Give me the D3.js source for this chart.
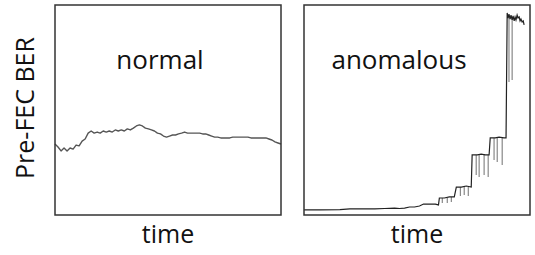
<!DOCTYPE html>
<html>
<head>
<meta charset="utf-8">
<script src="https://cdn.jsdelivr.net/npm/d3@7"></script>
<style>
  body { margin: 0; background: #fff; }
  svg text { font-family: "Open Sans", sans-serif; fill: #111; }
</style>
</head>
<body>
<svg id="chart" width="535" height="255"></svg>
<script>
// normal trace: evenly spaced samples, BER in arbitrary units (0-100)
var normalBER = [
  33.8, 32.4, 30.5, 31.9, 30.5, 31.9, 31.4, 33.3, 32.9, 35.2,
  36.2, 39.0, 40.0, 39.0, 39.5, 39.0, 40.0, 39.5, 40.0, 39.5,
  40.5, 40.0, 40.5, 40.0, 41.0, 40.5, 41.4, 42.4, 42.9, 42.4,
  41.4, 41.0, 40.5, 40.0, 39.0, 38.6, 37.6, 37.1, 37.6, 38.1,
  38.1, 38.6, 39.0, 39.5, 39.0, 39.0, 39.0, 39.0, 39.0, 38.6,
  38.6, 38.1, 37.6, 37.1, 37.1, 36.7, 36.7, 36.7, 36.7, 37.1,
  37.1, 37.1, 37.1, 37.1, 37.1, 36.7, 36.7, 36.7, 36.7, 36.7,
  36.7, 36.2, 35.7, 34.8, 34.3, 33.8
];

// anomalous trace: time (0-100) and BER
var anomTime = [
  0, 7.0, 15.9, 20.3, 24.7, 31.3, 35.7, 40.1, 42.3, 44.5, 46.7, 48.9, 51.1, 52.9,
  55.5, 58.1, 59.5, 59.9, 62.1, 64.3, 66.5, 67.4, 69.6, 71.8, 74.0,
  74.4, 76.7, 78.4, 80.2, 81.9, 82.4, 84.6, 86.3, 88.5, 89.4,
  89.9, 90.3, 90.7, 91.2, 91.6, 92.1, 92.5, 93.0, 93.4, 93.8,
  94.3, 94.7, 95.2, 95.6, 96.0, 96.5, 97.0, 97.4
];
var anomBER = [
  2.4, 2.4, 2.6, 2.9, 2.9, 2.9, 3.1, 3.3, 3.1, 3.3, 3.8, 3.8, 4.3, 5.2,
  5.2, 5.2, 4.8, 8.1, 8.1, 8.6, 8.6, 13.3, 13.3, 13.8, 13.3,
  28.6, 28.6, 29.0, 28.6, 28.6, 36.7, 36.7, 37.1, 36.7, 36.7,
  96.2, 93.8, 95.7, 93.3, 95.2, 92.9, 94.8, 92.4, 94.3, 92.9,
  95.2, 93.8, 94.3, 92.4, 93.3, 91.9, 92.4, 90.5
];

// short drop-outs hanging off each level
var spikeTime  = [61.2, 63.4, 65.2, 69.2, 70.9, 72.7, 76.2, 77.5, 79.7, 81.5, 84.1, 85.5, 87.7, 90.7, 92.1];
var spikeLevel = [8.1, 8.1, 8.6, 13.3, 13.8, 13.3, 28.6, 28.6, 29.0, 28.6, 36.7, 37.1, 36.7, 94.3, 94.0];
var spikeLow   = [5.7, 5.7, 6.2, 9.0, 9.5, 9.0, 19.0, 18.1, 19.0, 18.1, 26.2, 25.2, 23.8, 63.3, 64.3];

var svg = d3.select('#chart');

var panels = [
  { x: 55, label: 'normal', labelX: 160 },
  { x: 304, label: 'anomalous', labelX: 399 }
];
var pw = 226, ph = 210, panelTop = 5;

var y = d3.scaleLinear().domain([0, 100]).range([ph, 0]);

panels.forEach(function(p, i) {
  var g = svg.append('g').attr('transform', 'translate(' + p.x + ',' + panelTop + ')');

  var x;
  if (i === 0) {
    x = d3.scaleLinear().domain([0, normalBER.length - 1]).range([0, pw]);
    var line = d3.line()
      .x(function(d, k) { return x(k); })
      .y(function(d) { return y(d); });
    g.append('path')
      .datum(normalBER)
      .attr('d', line)
      .attr('fill', 'none')
      .attr('stroke', '#555')
      .attr('stroke-width', 1.4)
      .attr('stroke-linejoin', 'round');
  } else {
    x = d3.scaleLinear().domain([0, 100]).range([0, pw]);
    g.selectAll('line.spike')
      .data(spikeTime)
      .enter()
      .append('line')
      .attr('class', 'spike')
      .attr('x1', function(d) { return x(d); })
      .attr('x2', function(d) { return x(d); })
      .attr('y1', function(d, k) { return y(spikeLevel[k]); })
      .attr('y2', function(d, k) { return y(spikeLow[k]); })
      .attr('stroke', '#888')
      .attr('stroke-width', 1.2);
    var line2 = d3.line()
      .x(function(d) { return x(d); })
      .y(function(d, k) { return y(anomBER[k]); });
    g.append('path')
      .datum(anomTime)
      .attr('d', line2)
      .attr('fill', 'none')
      .attr('stroke', '#222')
      .attr('stroke-width', 1.2);
  }

  // frame
  g.append('rect')
    .attr('width', pw)
    .attr('height', ph)
    .attr('fill', 'none')
    .attr('stroke', '#333')
    .attr('stroke-width', 1.5);

  svg.append('text')
    .attr('x', p.labelX)
    .attr('y', 69)
    .attr('text-anchor', 'middle')
    .attr('font-size', 26)
    .text(p.label);

  svg.append('text')
    .attr('x', p.x + pw / 2)
    .attr('y', 243)
    .attr('text-anchor', 'middle')
    .attr('font-size', 25)
    .text('time');
});

svg.append('text')
  .attr('transform', 'translate(34,108) rotate(-90)')
  .attr('text-anchor', 'middle')
  .attr('font-size', 25)
  .text('Pre-FEC BER');
</script>
</body>
</html>
